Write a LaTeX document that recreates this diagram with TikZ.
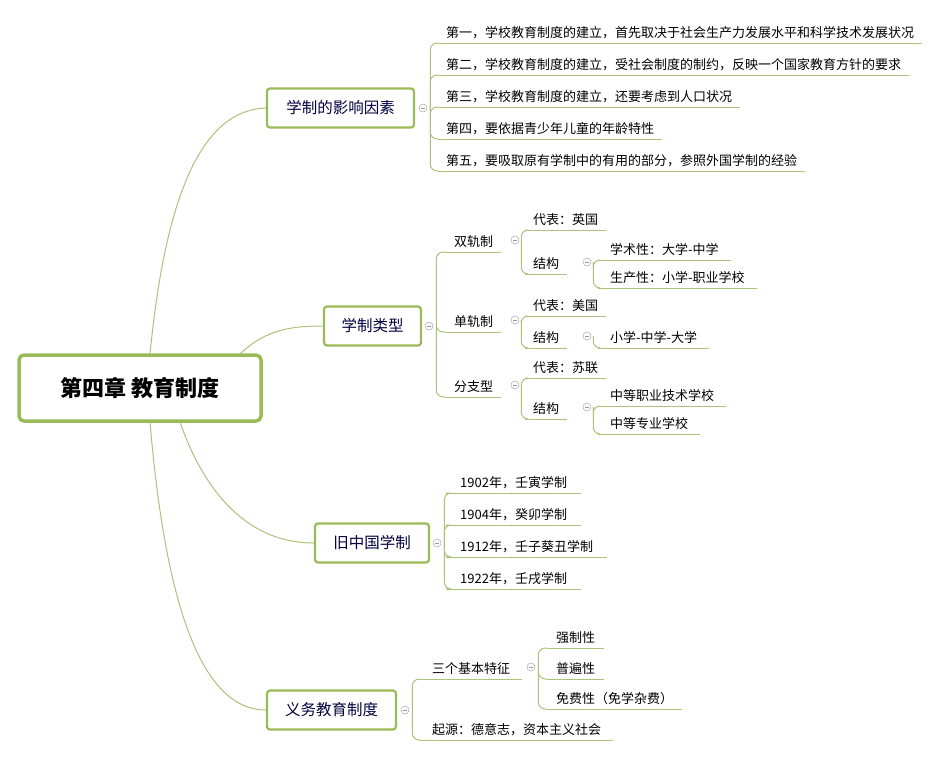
\documentclass[tikz,border=0pt]{standalone}
\usepackage{fontspec}
\setmainfont{Noto Sans CJK SC}
\definecolor{boxg}{RGB}{155,187,89}
\definecolor{lng}{RGB}{170,196,125}
\begin{document}
\begin{tikzpicture}[x=1pt,y=-1pt,
  ln/.style={draw=lng, line width=1pt},
  conn/.style={ln, rounded corners=7pt},
  rootbox/.style={draw=boxg, line width=3.5pt, rounded corners=5pt, fill=white, minimum width=242pt, minimum height=66pt, font=\bfseries\fontsize{22}{24}\selectfont, text=black},
  branch/.style={draw=boxg, line width=2.2pt, rounded corners=3pt, fill=white, minimum height=39pt, inner xsep=9pt, font=\fontsize{15.5}{18}\selectfont, text=black!75!blue},
  leaf/.style={anchor=south west, inner xsep=8pt, inner ysep=4pt, font=\fontsize{13}{15}\selectfont, text=black, append after command={(\tikzlastnode.south west) edge[ln] (\tikzlastnode.south east)}},
  tog/.style={circle, draw=gray!70, line width=0.5pt, minimum size=8pt, inner sep=0pt, fill=white, path picture={\draw[gray!80, line width=0.5pt] ([xshift=-2pt]path picture bounding box.center) -- ([xshift=2pt]path picture bounding box.center);}}
]
\useasboundingbox (0,0) rectangle (947,758);
\fill[white] (0,0) rectangle (947,758);

\coordinate (r1) at (150,354);
\coordinate (r2) at (240,354);
\coordinate (r3) at (180,422);
\coordinate (r4) at (150,422);
\node[branch, minimum width=147pt] (b1) at (340.5,108) {学制的影响因素};
\node[branch, minimum width=97pt] (b2) at (372.5,326) {学制类型};
\node[branch, minimum width=114pt] (b3) at (372,543) {旧中国学制};
\node[branch, minimum width=129pt] (b4) at (331.5,710) {义务教育制度};
\draw[ln] (r1) .. controls (165,200) and (200,110) .. (b1.west);
\draw[ln] (r2) .. controls (265,330) and (290,326) .. (b2.west);
\draw[ln] (r3) .. controls (200,480) and (240,543) .. (b3.west);
\draw[ln] (r4) .. controls (165,600) and (200,710) .. (b4.west);
\node[rootbox] (root) at (140,388) {第四章 教育制度};

% toggles
\node[tog] (t1) at (423,108) {};
\node[tog] (t2) at (429,326) {};
\node[tog] (t3) at (437,543) {};
\node[tog] (t4) at (405,710) {};

% branch 1 leaves
\node[leaf] (l11) at (438,43) {第一，学校教育制度的建立，首先取决于社会生产力发展水平和科学技术发展状况};
\node[leaf] (l12) at (438,75) {第二，学校教育制度的建立，受社会制度的制约，反映一个国家教育方针的要求};
\node[leaf] (l13) at (438,107) {第三，学校教育制度的建立，还要考虑到人口状况};
\node[leaf] (l14) at (438,139) {第四，要依据青少年儿童的年龄特性};
\node[leaf] (l15) at (438,171) {第五，要吸取原有学制中的有用的部分，参照外国学制的经验};
\foreach \n in {l11,l12,l13,l14,l15} \draw[conn] ([xshift=3pt]t1.east) |- (\n.south west);

% branch 2
\node[leaf] (s1) at (446,252) {双轨制};
\node[leaf] (s2) at (446,332) {单轨制};
\node[leaf] (s3) at (446,397) {分支型};
\foreach \n in {s1,s2,s3} \draw[conn] ([xshift=3pt]t2.east) |- (\n.south west);
\node[tog] (ts1) at (515,240) {};
\node[tog] (ts2) at (515,320) {};
\node[tog] (ts3) at (515,385) {};

\node[leaf] (d1) at (525,230) {代表：英国};
\node[leaf] (j1) at (525,274) {结构};
\node[leaf] (d2) at (525,316) {代表：美国};
\node[leaf] (j2) at (525,348) {结构};
\node[leaf] (d3) at (525,378) {代表：苏联};
\node[leaf] (j3) at (525,419) {结构};
\foreach \a/\n in {ts1/d1,ts1/j1,ts2/d2,ts2/j2,ts3/d3,ts3/j3} \draw[conn] ([xshift=2pt]\a.east) |- (\n.south west);
\node[tog] (tj1) at (587,262) {};
\node[tog] (tj2) at (587,336) {};
\node[tog] (tj3) at (587,407) {};

\node[leaf, inner xsep=12pt] (k1) at (598,260) {学术性：大学-中学};
\node[leaf, inner xsep=12pt] (k2) at (598,288) {生产性：小学-职业学校};
\node[leaf, inner xsep=12pt] (k3) at (598,348) {小学-中学-大学};
\node[leaf, inner xsep=12pt] (k4) at (598,406) {中等职业技术学校};
\node[leaf, inner xsep=12pt] (k5) at (598,434) {中等专业学校};
\foreach \a/\n in {tj1/k1,tj1/k2,tj2/k3,tj3/k4,tj3/k5} \draw[conn] ([xshift=2pt]\a.east) |- (\n.south west);

% branch 3
\node[leaf, inner xsep=14pt] (o1) at (446,493) {1902年，壬寅学制};
\node[leaf, inner xsep=14pt] (o2) at (446,525) {1904年，癸卯学制};
\node[leaf, inner xsep=14pt] (o3) at (446,557) {1912年，壬子葵丑学制};
\node[leaf, inner xsep=14pt] (o4) at (446,589) {1922年，壬戌学制};
\foreach \n in {o1,o2,o3,o4} \draw[conn] ([xshift=3pt]t3.east) |- (\n.south west);

% branch 4
\node[leaf, inner xsep=12pt] (y1) at (420,679) {三个基本特征};
\node[leaf, inner xsep=12pt] (y2) at (420,740) {起源：德意志，资本主义社会};
\foreach \n in {y1,y2} \draw[conn] ([xshift=3pt]t4.east) |- (\n.south west);
\node[tog] (ty1) at (531,667) {};
\node[leaf, inner xsep=9pt] (f1) at (547,648) {强制性};
\node[leaf, inner xsep=9pt] (f2) at (547,679) {普遍性};
\node[leaf, inner xsep=9pt] (f3) at (547,709) {免费性（免学杂费）};
\foreach \n in {f1,f2,f3} \draw[conn] ([xshift=3pt]ty1.east) |- (\n.south west);
\end{tikzpicture}
\end{document}
